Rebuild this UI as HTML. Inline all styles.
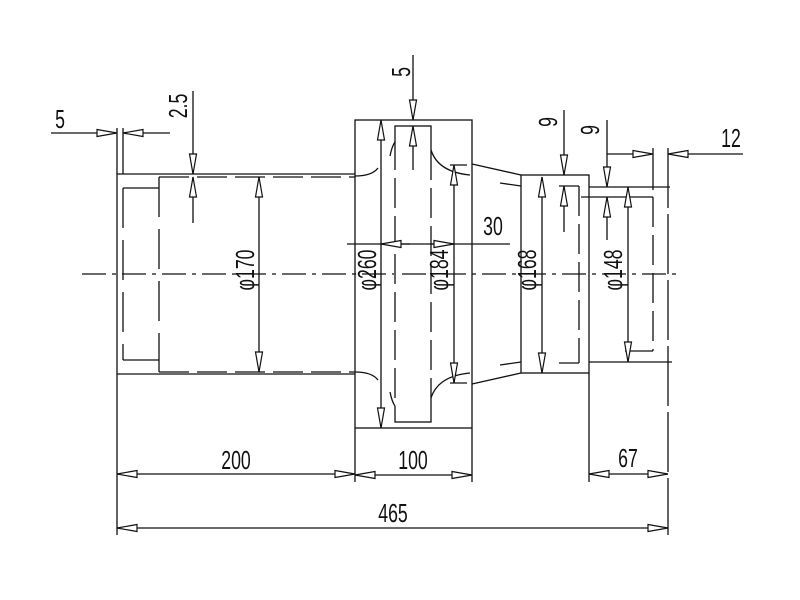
<!DOCTYPE html>
<html><head><meta charset="utf-8"><style>
html,body{margin:0;padding:0;background:#fff;}
svg{display:block}
text{font-family:"Liberation Sans Narrow","Liberation Sans",sans-serif;font-size:26px;fill:#111;}
</style></head><body>
<svg width="800" height="600" viewBox="0 0 800 600" xmlns="http://www.w3.org/2000/svg">
<defs>
<marker id="a" markerUnits="userSpaceOnUse" markerWidth="24" markerHeight="10" refX="21" refY="5" orient="auto-start-reverse" viewBox="0 0 24 10">
<path d="M1,1.5 L21,5 L1,8.5 Z" fill="#fff" stroke="#111" stroke-width="1.2"/>
</marker>
</defs>
<g stroke="#111" stroke-width="1.3" fill="none">
<line x1="82" y1="274" x2="680" y2="274" stroke-dasharray="24,6,4,6"/>
<polyline points="355,174 117,174 117,374 355,374"/>
<line x1="159" y1="177" x2="355" y2="177" stroke-dasharray="30,8"/>
<line x1="159" y1="372" x2="355" y2="372" stroke-dasharray="30,8"/>
<line x1="159" y1="177" x2="159" y2="372" stroke-dasharray="40,12"/>
<line x1="123" y1="188" x2="159" y2="188"/>
<line x1="123" y1="360" x2="159" y2="360"/>
<line x1="123" y1="188" x2="123" y2="360" stroke-dasharray="40,12"/>
<rect x="355" y="120" width="117" height="308"/>
<rect x="395" y="126" width="36" height="296"/>
<line x1="395" y1="140" x2="395" y2="408" stroke="#fff" stroke-width="2"/>
<line x1="431" y1="150" x2="431" y2="398" stroke="#fff" stroke-width="2"/>
<line x1="395" y1="140" x2="395" y2="408" stroke-dasharray="30,8"/>
<line x1="431" y1="150" x2="431" y2="398" stroke-dasharray="30,8"/>
<path d="M355,176 Q372,176 378,168"/>
<path d="M355,372 Q372,372 378,380"/>
<path d="M390,156 Q392,146 395,142"/>
<path d="M390,392 Q392,402 395,406"/>
<path d="M431,150 Q438,172 470,175"/>
<path d="M431,398 Q438,376 470,373"/>
<line x1="472" y1="164" x2="521" y2="175"/>
<line x1="472" y1="384" x2="521" y2="373"/>
<line x1="500" y1="183" x2="521" y2="186"/>
<line x1="500" y1="365" x2="521" y2="362"/>
<line x1="450" y1="165" x2="467" y2="165"/>
<line x1="450" y1="383" x2="467" y2="383"/>
<rect x="521" y="175" width="68" height="198"/>
<line x1="559" y1="186" x2="579" y2="186"/>
<line x1="559" y1="363" x2="579" y2="363"/>
<line x1="579" y1="186" x2="579" y2="363" stroke-dasharray="30,8"/>
<line x1="589" y1="187" x2="670" y2="187"/>
<line x1="589" y1="362" x2="672" y2="362"/>
<line x1="581" y1="197" x2="653" y2="197"/>
<line x1="625" y1="351" x2="653" y2="351"/>
<line x1="653" y1="197" x2="653" y2="351" stroke-dasharray="30,8"/>
<line x1="653" y1="148" x2="653" y2="190"/>
<line x1="668" y1="148" x2="668" y2="535" stroke-dasharray="60,6"/>
<line x1="117" y1="374" x2="117" y2="535"/>
<line x1="117" y1="128" x2="117" y2="174"/>
<line x1="123" y1="128" x2="123" y2="174"/>
<line x1="355" y1="428" x2="355" y2="482"/>
<line x1="472" y1="428" x2="472" y2="482"/>
<line x1="589" y1="373" x2="589" y2="482"/>
<line x1="117" y1="474" x2="355" y2="474" marker-start="url(#a)" marker-end="url(#a)"/>
<line x1="355" y1="475" x2="472" y2="475" marker-start="url(#a)" marker-end="url(#a)"/>
<line x1="589" y1="474" x2="668" y2="474" marker-start="url(#a)" marker-end="url(#a)"/>
<line x1="117" y1="528" x2="668" y2="528" marker-start="url(#a)" marker-end="url(#a)"/>
<line x1="259" y1="177" x2="259" y2="372" marker-start="url(#a)" marker-end="url(#a)"/>
<line x1="381" y1="120" x2="381" y2="428" marker-start="url(#a)" marker-end="url(#a)"/>
<line x1="454" y1="165" x2="454" y2="383" marker-start="url(#a)" marker-end="url(#a)"/>
<line x1="542" y1="177" x2="542" y2="373" marker-start="url(#a)" marker-end="url(#a)"/>
<line x1="628" y1="187" x2="628" y2="362" marker-start="url(#a)" marker-end="url(#a)"/>
<line x1="51" y1="133" x2="117" y2="133" marker-end="url(#a)"/>
<line x1="170" y1="133" x2="123" y2="133" marker-end="url(#a)"/>
<line x1="193" y1="91" x2="193" y2="174" marker-end="url(#a)"/>
<line x1="193" y1="223" x2="193" y2="177" marker-end="url(#a)"/>
<line x1="413" y1="55" x2="413" y2="120" marker-end="url(#a)"/>
<line x1="413" y1="170" x2="413" y2="126" marker-end="url(#a)"/>
<line x1="347" y1="244" x2="510" y2="244"/>
<line x1="410" y1="244" x2="381" y2="244" marker-end="url(#a)"/>
<line x1="430" y1="244" x2="454" y2="244" marker-end="url(#a)"/>
<line x1="564" y1="110" x2="564" y2="175" marker-end="url(#a)"/>
<line x1="564" y1="232" x2="564" y2="186" marker-end="url(#a)"/>
<line x1="607" y1="120" x2="607" y2="187" marker-end="url(#a)"/>
<line x1="607" y1="240" x2="607" y2="197" marker-end="url(#a)"/>
<line x1="607" y1="154" x2="653" y2="154" marker-end="url(#a)"/>
<line x1="743" y1="154" x2="668" y2="154" marker-end="url(#a)"/>
</g>
<g>
<text x="236" y="469" text-anchor="middle" transform="translate(236 0) scale(0.68 1) translate(-236 0)">200</text>
<text x="413" y="469" text-anchor="middle" transform="translate(413 0) scale(0.68 1) translate(-413 0)">100</text>
<text x="628" y="467" text-anchor="middle" transform="translate(628 0) scale(0.68 1) translate(-628 0)">67</text>
<text x="393" y="522" text-anchor="middle" transform="translate(393 0) scale(0.68 1) translate(-393 0)">465</text>
<text x="60" y="128" text-anchor="middle" transform="translate(60 0) scale(0.68 1) translate(-60 0)">5</text>
<text x="493" y="235" text-anchor="middle" transform="translate(493 0) scale(0.68 1) translate(-493 0)">30</text>
<text x="731" y="147" text-anchor="middle" transform="translate(731 0) scale(0.68 1) translate(-731 0)">12</text>
<text transform="translate(187 106) rotate(-90) scale(0.68 1)" text-anchor="middle">2.5</text>
<text transform="translate(410 72) rotate(-90) scale(0.68 1)" text-anchor="middle">5</text>
<text transform="translate(557 122) rotate(-90) scale(0.68 1)" text-anchor="middle">9</text>
<text transform="translate(599 130) rotate(-90) scale(0.68 1)" text-anchor="middle">9</text>
<text transform="translate(254 270) rotate(-90) scale(0.68 1)" text-anchor="middle">φ170</text>
<text transform="translate(376 270) rotate(-90) scale(0.68 1)" text-anchor="middle">φ260</text>
<text transform="translate(448 270) rotate(-90) scale(0.68 1)" text-anchor="middle">φ184</text>
<text transform="translate(536 270) rotate(-90) scale(0.68 1)" text-anchor="middle">φ168</text>
<text transform="translate(622 270) rotate(-90) scale(0.68 1)" text-anchor="middle">φ148</text>
</g>
</svg>
</body></html>
